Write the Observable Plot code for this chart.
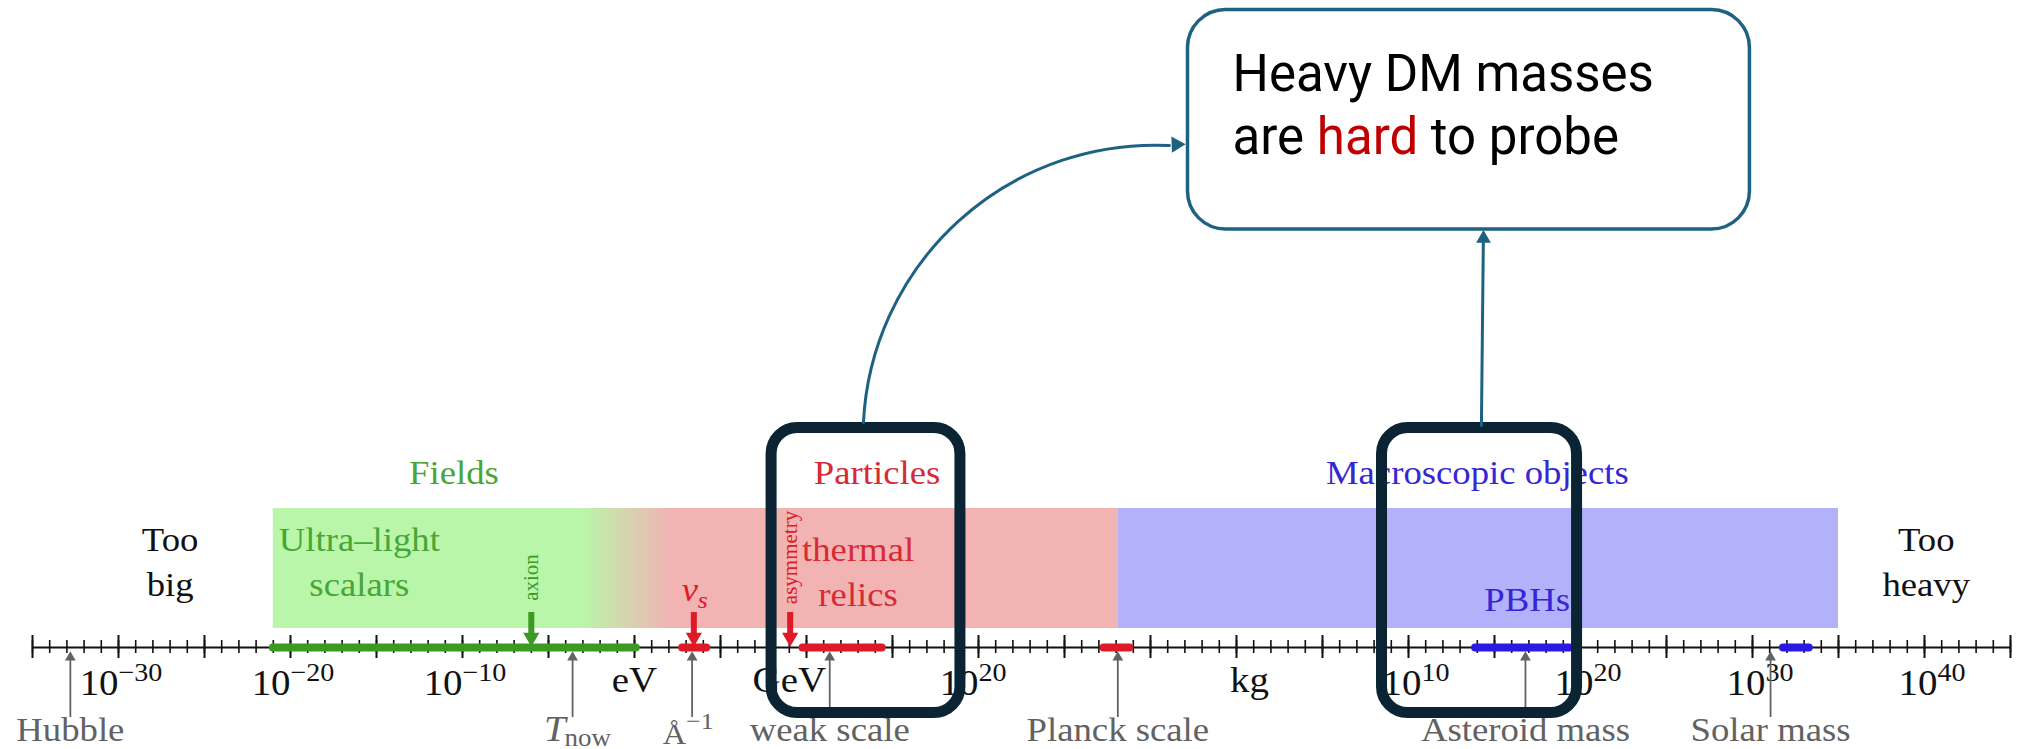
<!DOCTYPE html>
<html><head><meta charset="utf-8">
<script src="https://cdn.jsdelivr.net/npm/d3@7"></script>
<script src="https://cdn.jsdelivr.net/npm/@observablehq/plot@0.6"></script>
<style>
html,body{margin:0;padding:0;background:#fff;}
#chart svg{display:block;}
</style>
</head><body><div id="chart"></div>
<script>
// All masses are log10(mass / eV)
const axisFrom = -35, axisTo = 80;
const kgShift = 35.75;                       // log10(1 kg / eV)

// Shaded regions
const bandNames  = ["Fields", "Particles", "Macroscopic objects"];
const bandLo     = [-21, 2.1, 28.1];
const bandHi     = [-3, 28.1, 70];
const bandTitleX = [-10.5, 14.1, 49.0];
const fadeLo = -3, fadeHi = 2.1;             // green → red blend

// Thick candidate ranges on the axis
const rangeNames = ["ultra-light scalars", "sterile neutrino", "thermal relics", "Planck relics", "PBHs", "stellar-mass PBHs"];
const rangeLo    = [-21, 2.8, 9.8, 27.3, 48.9, 66.8];
const rangeHi    = [0.1, 4.2, 14.4, 28.8, 54.4, 68.3];
const rangeKind  = ["field", "particle", "particle", "particle", "macro", "macro"];

// Downward markers
const markNames = ["axion", "nu_s", "asymmetry"];
const markAt    = [-6, 3.45, 9.05];
const markKind  = ["field", "particle", "particle"];

// Reference scales (grey arrows)
const refNames = ["Hubble", "T_now", "Å^-1", "weak scale", "Planck scale", "Asteroid mass", "Solar mass"];
const refAt    = [-32.8, -3.6, 3.35, 11.35, 28.1, 51.8, 66.05];

// Tick labels
const eVTickExp  = [-30, -20, -10, 20];
const eVUnits    = ["eV", "GeV"];
const eVUnitsAt  = [0, 9];
const kgTickExp  = [10, 20, 30, 40];

// Region texts
const regionTexts = ["Too\nbig", "Ultra–light\nscalars", "thermal\nrelics", "PBHs", "Too\nheavy"];
const regionAt    = [-27, -16, 13.0, 51.9, 75.1];
const regionKind  = ["plain", "field", "particle", "macro", "plain"];

// Highlight boxes (slide annotations), in log10(eV)
const hiLo = [7.97, 43.46];
const hiHi = [18.95, 54.8];

const colors = {
  field: "#3b9a22", particle: "#dd1a26", macro: "#2a18e4", plain: "#111111",
  fieldBand: "#b9f6a9", particleBand: "#f2b3b3", macroBand: "#b3b1fa",
  fieldText: "#48a636", particleText: "#d62a36", macroText: "#3526d6",
  ref: "#626262", box: "#0b2433", note: "#1d6283"
};
const serif = "Liberation Serif, Times New Roman, serif";
const E = (e) => 10 ** e;

// y layout (units above the axis line)
const Y = {bandBot: 19, bandTop: 139, title: 164, axisLblBase: -47, refLblBase: -93, refArrowBot: -70};

const bands = bandNames.map((name, i) => ({name, lo: bandLo[i], hi: bandHi[i], title: bandTitleX[i],
  fill: [colors.fieldBand, colors.particleBand, colors.macroBand][i],
  text: [colors.fieldText, colors.particleText, colors.macroText][i]}));
const ranges = rangeNames.map((name, i) => ({name, lo: rangeLo[i], hi: rangeHi[i], c: colors[rangeKind[i]]}));
const marks = markNames.map((name, i) => ({name, at: markAt[i], c: colors[markKind[i]]}));
const refs = refNames.map((name, i) => ({name, at: refAt[i]}));
const regions = regionTexts.map((t, i) => ({t, at: regionAt[i],
  c: {plain: colors.plain, field: colors.fieldText, particle: colors.particleText, macro: colors.macroText}[regionKind[i]]}));
const powLabels = [
  ...eVTickExp.map(e => ({at: e, exp: e < 0 ? "−" + (-e) : String(e)})),
  ...kgTickExp.map(e => ({at: e + kgShift, exp: String(e)}))
];
const unitLabels = [...eVUnits.map((u, i) => ({u, at: eVUnitsAt[i]})), {u: "kg", at: kgShift}];
const plainRefs = refs.filter(d => !["T_now", "Å^-1"].includes(d.name));

// slide annotation arrows (log10 eV, layout units)
const curved = [{x1: 13.31, y1: 225, x2: 31.1, y2: 502}];
const curvedHead = [{x: 31.5, y: 503}];
const straight = [{x1: 49.24, y1: 222, x2: 49.35, y2: 405}];
const straightHead = [{x: 49.36, y: 409}];

const defs = () => {
  const g = d3.create("svg:defs");
  const lg = g.append("linearGradient").attr("id", "fade").attr("x1", "0").attr("x2", "1").attr("y1", "0").attr("y2", "0");
  lg.append("stop").attr("offset", "0%").attr("stop-color", colors.fieldBand);
  lg.append("stop").attr("offset", "100%").attr("stop-color", colors.particleBand);
  return g.node();
};

const chart = Plot.plot({
  width: 2020, height: 749,
  marginTop: 0, marginRight: 0, marginBottom: 0, marginLeft: 0,
  style: {background: "#fff", overflow: "visible"},
  x: {type: "log", domain: [E(axisFrom), E(axisTo)], range: [32, 2010], axis: null},
  y: {domain: [-102, 647], range: [749, 0], axis: null},
  marks: [
    defs,
    // shaded bands
    Plot.rect(bands, {x1: d => E(d.lo), x2: d => E(d.hi), y1: Y.bandBot, y2: Y.bandTop, fill: d => d.fill}),
    Plot.rect([{lo: fadeLo - 0.05, hi: fadeHi + 0.05}], {x1: d => E(d.lo), x2: d => E(d.hi), y1: Y.bandBot, y2: Y.bandTop, fill: "url(#fade)"}),
    Plot.text(bands, {x: d => E(d.title), y: Y.title, text: "name", fill: d => d.text, fontFamily: serif, fontSize: 34, lineAnchor: "bottom"}),
    // axis line and ticks
    Plot.ruleY([0], {x1: E(axisFrom), x2: E(axisTo), stroke: "#111", strokeWidth: 2}),
    Plot.ruleX(d3.range(axisFrom, axisTo + 1), {x: d => E(d), y1: -6, y2: 7, stroke: "#111", strokeWidth: 1.6}),
    Plot.ruleX(d3.range(axisFrom, axisTo + 1, 5), {x: d => E(d), y1: -11, y2: 12, stroke: "#111", strokeWidth: 2}),
    // candidate ranges
    Plot.ruleY(ranges, {x1: d => E(d.lo), x2: d => E(d.hi), y: 0, stroke: d => d.c, strokeWidth: 8, strokeLinecap: "round"}),
    // down markers
    Plot.ruleX(marks, {x: d => E(d.at), y1: 14, y2: 35, stroke: d => d.c, strokeWidth: 6}),
    Plot.dot(marks, {x: d => E(d.at), y: 10, symbol: "triangle", rotate: 180, r: 6, fill: d => d.c, stroke: "none"}),
    Plot.text(marks.filter(d => d.name !== "nu_s"), {x: d => E(d.at), y: d => d.name === "axion" ? 70 : 90, text: "name", rotate: -90, fill: d => d.c, fontFamily: serif, fontSize: 21}),
    Plot.text(marks.filter(d => d.name === "nu_s"), {x: d => E(d.at), y: 47, text: () => "ν", dx: -4, fill: d => d.c, fontFamily: serif, fontStyle: "italic", fontSize: 34, lineAnchor: "bottom"}),
    Plot.text(marks.filter(d => d.name === "nu_s"), {x: d => E(d.at), y: 47, text: () => "s", dx: 9, dy: 7, fill: d => d.c, fontFamily: serif, fontStyle: "italic", fontSize: 24, lineAnchor: "bottom"}),
    // region labels
    Plot.text(regions, {x: d => E(d.at), y: d => d.t === "PBHs" ? 37 : d.t.startsWith("thermal") ? 42 : 52, text: "t", fill: "c", fontFamily: serif, fontSize: 34, lineAnchor: "bottom", lineHeight: 1.3}),
    // tick labels
    Plot.text(powLabels, {x: d => E(d.at), y: Y.axisLblBase, text: () => "10", textAnchor: "end", fill: "#111", fontFamily: serif, fontSize: 36, lineAnchor: "bottom"}),
    Plot.text(powLabels, {x: d => E(d.at), y: Y.axisLblBase + 14, text: "exp", textAnchor: "start", fill: "#111", fontFamily: serif, fontSize: 26, lineAnchor: "bottom"}),
    Plot.text(unitLabels, {x: d => E(d.at), y: Y.axisLblBase + 3, text: "u", fill: "#111", fontFamily: serif, fontSize: 36, lineAnchor: "bottom"}),
    // reference arrows
    Plot.ruleX(refs, {x: d => E(d.at), y1: Y.refArrowBot, y2: -12, stroke: colors.ref, strokeWidth: 1.8}),
    Plot.dot(refs, {x: d => E(d.at), y: -10, symbol: "triangle", r: 4, fill: colors.ref, stroke: "none"}),
    Plot.text(plainRefs, {x: d => E(d.at), y: Y.refLblBase, text: "name", fill: colors.ref, fontFamily: serif, fontSize: 34, lineAnchor: "bottom"}),
    Plot.text(refs.filter(d => d.name === "T_now"), {x: d => E(d.at), y: Y.refLblBase, text: () => "T", dx: -7, textAnchor: "end", fill: colors.ref, fontFamily: serif, fontStyle: "italic", fontSize: 36, lineAnchor: "bottom"}),
    Plot.text(refs.filter(d => d.name === "T_now"), {x: d => E(d.at), y: Y.refLblBase - 5, text: () => "now", dx: -8, textAnchor: "start", fill: colors.ref, fontFamily: serif, fontSize: 25, lineAnchor: "bottom"}),
    Plot.text(refs.filter(d => d.name === "Å^-1"), {x: d => E(d.at), y: Y.refLblBase - 3, text: () => "Å", dx: -6, textAnchor: "end", fill: colors.ref, fontFamily: serif, fontSize: 30, lineAnchor: "bottom"}),
    Plot.text(refs.filter(d => d.name === "Å^-1"), {x: d => E(d.at), y: Y.refLblBase + 12, text: () => "−1", dx: -6, textAnchor: "start", fill: colors.ref, fontFamily: serif, fontSize: 24, lineAnchor: "bottom"}),
    // slide annotations: highlight boxes
    Plot.rect(hiLo.map((lo, i) => ({lo, hi: hiHi[i]})), {x1: d => E(d.lo), x2: d => E(d.hi), y1: -65.5, y2: 219.5, fill: "none", stroke: colors.box, strokeWidth: 11, rx: 26}),
    // note box
    Plot.rect([{lo: 32.18, hi: 64.85}], {x1: d => E(d.lo), x2: d => E(d.hi), y1: 418, y2: 637.5, fill: "#fff", stroke: colors.note, strokeWidth: 3.5, rx: 38}),
    Plot.text(["Heavy DM masses"], {x: E(34.77), y: 557, text: d => d, textAnchor: "start", fill: "#000", fontFamily: "Roboto, Inter, sans-serif", fontSize: 51, lineAnchor: "bottom"}),
    Plot.text(["are hard to probe"], {x: E(34.77), y: 494, text: d => d, textAnchor: "start", fill: "#000", fontFamily: "Roboto, Inter, sans-serif", fontSize: 51, lineAnchor: "bottom"}),
    // connecting arrows
    Plot.arrow(curved, {x1: d => E(d.x1), y1: "y1", x2: d => E(d.x2), y2: "y2", bend: 45, stroke: colors.note, strokeWidth: 3, headLength: 0}),
    Plot.dot(curvedHead, {x: d => E(d.x), y: "y", symbol: "triangle", rotate: 88, r: 6, fill: colors.note, stroke: "none"}),
    Plot.arrow(straight, {x1: d => E(d.x1), y1: "y1", x2: d => E(d.x2), y2: "y2", stroke: colors.note, strokeWidth: 3, headLength: 0}),
    Plot.dot(straightHead, {x: d => E(d.x), y: "y", symbol: "triangle", r: 5.5, fill: colors.note, stroke: "none"})
  ]
});

// colour the word "hard"
d3.select(chart).selectAll("text").each(function () {
  if (this.textContent === "are hard to probe") {
    const t = d3.select(this);
    t.text(null);
    t.append("tspan").text("are ");
    t.append("tspan").attr("fill", "#c00000").text("hard");
    t.append("tspan").text(" to probe");
  }
});

// the source figure is slightly stretched horizontally: widen its serif texts
const stretch = 1.08;
d3.select(chart).selectAll("g").each(function () {
  const ff = this.getAttribute("font-family") || "";
  if (!ff.includes("Liberation Serif")) return;
  d3.select(this).selectAll(":scope > text").each(function () {
    const tr = this.getAttribute("transform");
    if (tr) {
      if (!tr.includes("rotate")) this.setAttribute("transform", tr + ` scale(${stretch},1)`);
    } else {
      const x = +(this.getAttribute("x") || 0);
      this.setAttribute("transform", `translate(${x},0) scale(${stretch},1) translate(${-x},0)`);
    }
  });
});

document.getElementById("chart").appendChild(chart);
</script>
</body></html>
